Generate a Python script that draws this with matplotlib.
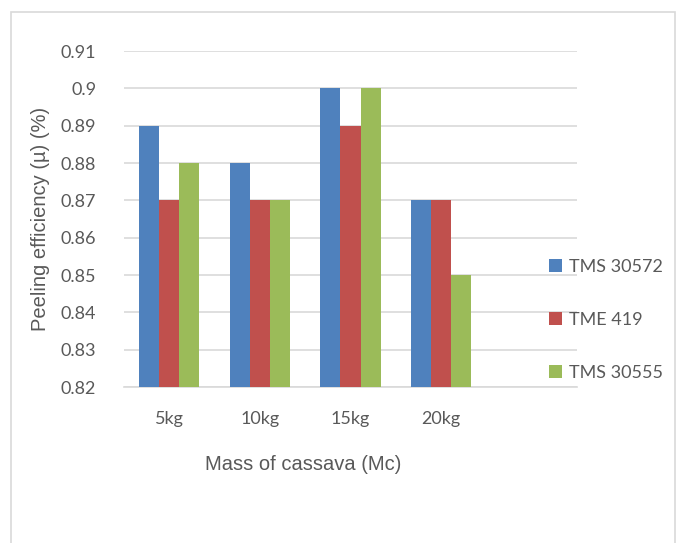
import matplotlib.pyplot as plt
import numpy as np
from matplotlib.patches import Rectangle

# datos
masas = ["5kg", "10kg", "15kg", "20kg"]
series = ["TMS 30572", "TME 419", "TMS 30555"]
tms_30572 = [0.89, 0.88, 0.90, 0.87]
tme_419 = [0.87, 0.87, 0.89, 0.87]
tms_30555 = [0.88, 0.87, 0.90, 0.85]
y_ticks = [0.82, 0.83, 0.84, 0.85, 0.86, 0.87, 0.88, 0.89, 0.90, 0.91]
y_labels = ["0.82", "0.83", "0.84", "0.85", "0.86", "0.87", "0.88", "0.89", "0.9", "0.91"]

colores = ["#4F81BD", "#C0504D", "#9BBB59"]
gris = "#595959"

fig = plt.figure(figsize=(6.82, 5.43), dpi=100)
fig.patches.append(Rectangle((11 / 682, -0.05), (675 - 11) / 682, 1.05 - 12 / 543,
                             transform=fig.transFigure, fill=False,
                             edgecolor="#D9D9D9", linewidth=1.2))

ax = fig.add_axes([124 / 682, 1 - 387 / 543, (577 - 124) / 682, (387 - 51) / 543])

x = np.arange(len(masas))
ancho = 0.222
for i, (nombre, valores) in enumerate(zip(series, [tms_30572, tme_419, tms_30555])):
    ax.bar(x + (i - 1) * ancho, np.array(valores) - 0.82, width=ancho, bottom=0.82,
           color=colores[i], label=nombre, zorder=3)

ax.set_ylim(0.82, 0.91)
ax.set_xlim(-0.5, 4.5)
ax.set_yticks(y_ticks)
ax.set_yticklabels(y_labels, fontfamily="Lato", fontsize=13, color=gris)
ax.set_xticks(x)
ax.set_xticklabels(masas, fontfamily="Lato", fontsize=13, color=gris)
ax.tick_params(axis="both", length=0)
ax.tick_params(axis="y", pad=20)
ax.tick_params(axis="x", pad=17)
ax.grid(axis="y", color="#D9D9D9", linewidth=1.2, zorder=0)
for lado in ["top", "right", "left"]:
    ax.spines[lado].set_visible(False)
ax.spines["bottom"].set_color("#D9D9D9")
ax.spines["bottom"].set_linewidth(1.2)

ax.set_ylabel("Peeling efficiency (µ) (%)", fontfamily="Liberation Sans",
              fontsize=14.5, color=gris, labelpad=8)
fig.text(303 / 682, 1 - 465 / 543, "Mass of cassava (Mc)", fontfamily="Liberation Sans",
         fontsize=14.5, color=gris, ha="center", va="center")

ax.legend(loc="center left", bbox_to_anchor=(533 / 682, 1 - 320 / 543),
          bbox_transform=fig.transFigure, frameon=False,
          prop={"family": "Lato", "size": 13}, labelcolor=gris,
          handlelength=0.7, handleheight=0.7, handletextpad=0.4, labelspacing=2.05)

fig.savefig("out.png", dpi=100)
